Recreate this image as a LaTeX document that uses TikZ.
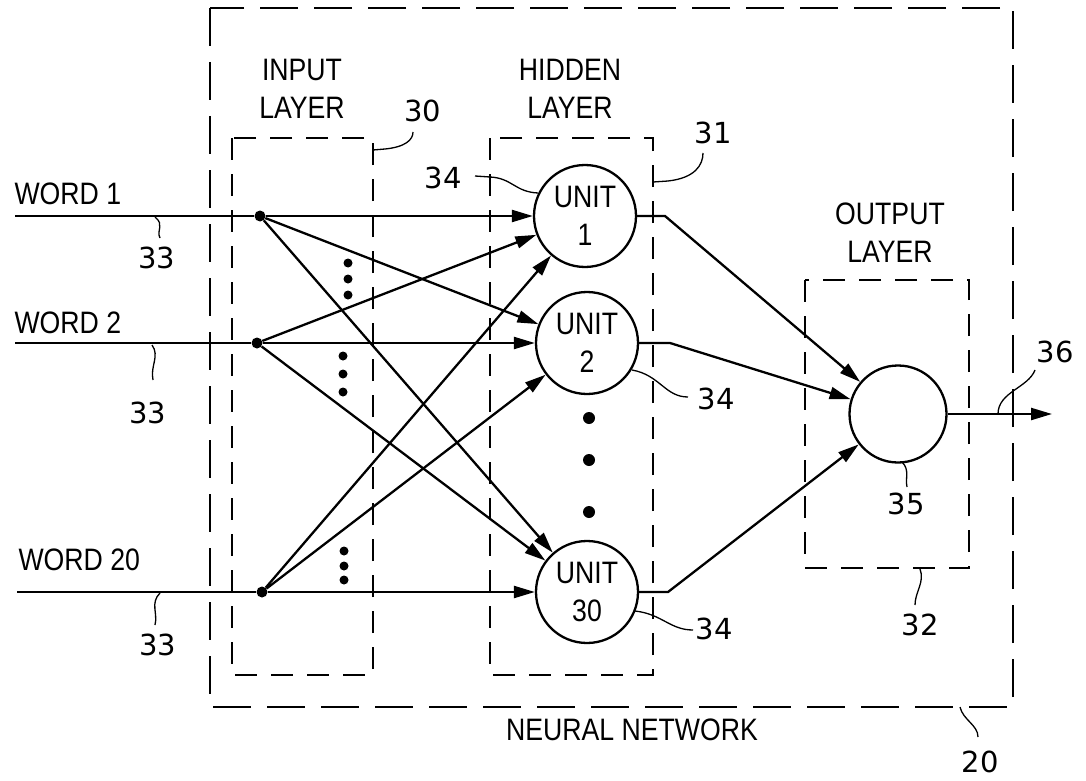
\documentclass[tikz,border=0pt]{standalone}
\usepackage{fontspec}
\setmainfont{Liberation Sans}[FakeStretch=0.86]
\newfontfamily\numfont{DejaVu Sans}
\usetikzlibrary{arrows.meta, positioning}

\begin{document}
\begin{tikzpicture}[x=1pt, y=-1pt, >={Triangle[length=21pt, width=12pt]},
        every node/.style={font=\fontsize{31}{38}\selectfont},
        unit/.style={circle, draw, line width=2.3pt, minimum size=102pt, inner sep=0pt, align=center},
        outunit/.style={circle, draw, line width=2.3pt, minimum size=97pt, inner sep=0pt},
        tap/.style={circle, fill, inner sep=0pt, minimum size=11pt},
        layerbox/.style={draw, line width=1.7pt, dash pattern=on 22pt off 14pt},
        netbox/.style={draw, line width=1.7pt, dash pattern=on 38pt off 16pt},
        wire/.style={line width=2.3pt},
        lead/.style={line width=1.3pt},
        refnum/.style={font=\numfont\fontsize{29}{36}\selectfont}]

    \useasboundingbox (0,0) rectangle (1086,781);

    % boxes
    \draw[netbox] (210,8) rectangle (1013,707);
    \draw[layerbox] (232,138) rectangle (373,675);
    \draw[layerbox] (490,138) rectangle (653,675);
    \draw[layerbox] (805,280) rectangle (969,568);

    \node[align=center] (inlbl) at (302,89) {INPUT\\LAYER};
    \node[align=center] (hidlbl) at (570,89) {HIDDEN\\LAYER};
    \node[align=center] (outlbl) at (890,233) {OUTPUT\\LAYER};
    \node[anchor=base] (netlbl) at (632,740) {NEURAL NETWORK};

    \node[anchor=base west] (word1) at (11,204) {WORD 1};
    \node[anchor=base west] (word2) at (11,333) {WORD 2};
    \node[anchor=base west] (word20) at (15,570) {WORD 20};

    % units
    \node[unit] (u1) at (585,216) {UNIT\\1};
    \node[unit] (u2) at (587,343) {UNIT\\2};
    \node[unit] (u30) at (587,592) {UNIT\\30};
    \node[outunit] (out) at (898,414) {};

    \node[tap] (w1) at (260,216) {};
    \node[tap] (w2) at (257,343) {};
    \node[tap] (w20) at (262,592) {};

    \coordinate (in1) at (15,216);
    \coordinate (in2) at (15,343);
    \coordinate (in20) at (17,592);
    \coordinate (b1) at (665,216);
    \coordinate (b2) at (670,343);
    \coordinate (b30) at (668,592);
    \coordinate (res) at (1052,414);

    \draw[wire] (in1) -- (w1);
    \draw[wire] (in2) -- (w2);
    \draw[wire] (in20) -- (w20);
    \foreach \s in {w1,w2,w20}
        \foreach \t in {u1,u2,u30}
            \draw[wire,->] (\s) -- (\t);

    \draw[wire,->] (u1.east) -- (b1) -- (out);
    \draw[wire,->] (u2.east) -- (b2) -- (out);
    \draw[wire,->] (u30.east) -- (b30) -- (out);
    \draw[wire,->] (out) -- (res);

    % dots
    \foreach \y in {263,279,295} \fill (348,\y) circle (4.5pt);
    \foreach \y in {356,374,392} \fill (343,\y) circle (4.5pt);
    \foreach \y in {551,566,580} \fill (344,\y) circle (4.5pt);
    \foreach \y in {418,460,512} \fill (589,\y) circle (6pt);

    % reference numerals
    \node[refnum] (r33a) at (157,258) {33};
    \node[refnum] (r33b) at (148,413) {33};
    \node[refnum] (r33c) at (158,645) {33};
    \node[refnum] (r30) at (423,111) {30};
    \node[refnum] (r31) at (713,133) {31};
    \node[refnum] (r34a) at (443,178) {34};
    \node[refnum] (r34b) at (716,399) {34};
    \node[refnum] (r34c) at (714,629) {34};
    \node[refnum] (r35) at (906,504) {35};
    \node[refnum] (r32) at (920,625) {32};
    \node[refnum] (r36) at (1055,352) {36};
    \node[refnum] (r20) at (980,762) {20};

    \draw[lead] (155,217) .. controls (165,225) and (156,230) .. (160,238);
    \draw[lead] (152,345) .. controls (160,356) and (150,366) .. (153,380);
    \draw[lead] (160,593) .. controls (150,603) and (158,613) .. (155,625);
    \draw[lead] (373,150) -- (385,149) .. controls (405,147) and (413,140) .. (413,132);
    \draw[lead] (653,182) -- (668,181) .. controls (695,178) and (703,165) .. (703,153);
    \draw[lead] (475,176) -- (490,177) .. controls (512,178) and (515,192) .. (538,193);
    \draw[lead] (632,370) .. controls (660,375) and (665,397) .. (688,397);
    \draw[lead] (635,611) .. controls (662,614) and (670,630) .. (693,630);
    \draw[lead] (902,462) .. controls (910,470) and (905,478) .. (907,487);
    \draw[lead] (920,569) .. controls (925,582) and (915,592) .. (915,605);
    \draw[lead] (998,414) .. controls (998,392) and (1028,388) .. (1035,370);
    \draw[lead] (960,707) .. controls (963,720) and (978,725) .. (978,737);
\end{tikzpicture}
\end{document}
